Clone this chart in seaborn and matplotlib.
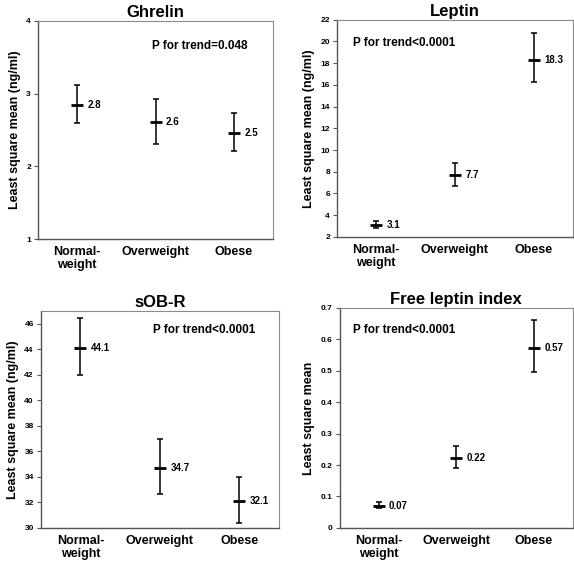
import numpy as np
import pandas as pd
import matplotlib
matplotlib.use("Agg")
import matplotlib.pyplot as plt
import seaborn as sns

sns.set_style("white")
plt.rcParams['font.family'] = ['Liberation Sans', 'DejaVu Sans']
plt.rcParams['text.color'] = 'black'
plt.rcParams['axes.labelcolor'] = 'black'
plt.rcParams['xtick.color'] = 'black'
plt.rcParams['ytick.color'] = 'black'

categories = ["Normal-\nweight", "Overweight", "Obese"]

ghrelin_mean = [2.84, 2.61, 2.46]
ghrelin_lo = [2.59, 2.31, 2.21]
ghrelin_hi = [3.12, 2.93, 2.74]
ghrelin_lbl = ["2.8", "2.6", "2.5"]

leptin_mean = [3.1, 7.7, 18.3]
leptin_lo = [2.8, 6.7, 16.25]
leptin_hi = [3.42, 8.85, 20.8]
leptin_lbl = ["3.1", "7.7", "18.3"]

sobr_mean = [44.1, 34.7, 32.1]
sobr_lo = [42.0, 32.68, 30.39]
sobr_hi = [46.42, 36.95, 34.0]
sobr_lbl = ["44.1", "34.7", "32.1"]

fli_mean = [0.071, 0.222, 0.571]
fli_lo = [0.063, 0.191, 0.495]
fli_hi = [0.081, 0.262, 0.661]
fli_lbl = ["0.07", "0.22", "0.57"]

panels = [
    dict(title="Ghrelin", mean=ghrelin_mean, lo=ghrelin_lo, hi=ghrelin_hi, lbl=ghrelin_lbl,
         ylim=(1, 4), yticks=[1, 2, 3, 4], ylabel="Least square mean (ng/ml)",
         ptxt="P for trend=0.048", ppos=(0.485, 0.885),
         rect=[0.066, 0.576, 0.410, 0.387]),
    dict(title="Leptin", mean=leptin_mean, lo=leptin_lo, hi=leptin_hi, lbl=leptin_lbl,
         ylim=(2, 22), yticks=list(range(2, 23, 2)), ylabel="Least square mean (ng/ml)",
         ptxt="P for trend<0.0001", ppos=(0.068, 0.894),
         rect=[0.587, 0.580, 0.411, 0.385]),
    dict(title="sOB-R", mean=sobr_mean, lo=sobr_lo, hi=sobr_hi, lbl=sobr_lbl,
         ylim=(30, 47), yticks=list(range(30, 47, 2)), ylabel="Least square mean (ng/ml)",
         ptxt="P for trend<0.0001", ppos=(0.47, 0.912),
         rect=[0.071, 0.064, 0.415, 0.385]),
    dict(title="Free leptin index", mean=fli_mean, lo=fli_lo, hi=fli_hi, lbl=fli_lbl,
         ylim=(0, 0.7), yticks=[0, 0.1, 0.2, 0.3, 0.4, 0.5, 0.6, 0.7], ylabel="Least square mean",
         ptxt="P for trend<0.0001", ppos=(0.056, 0.90),
         rect=[0.592, 0.064, 0.406, 0.390]),
]

fig = plt.figure(figsize=(5.74, 5.64), dpi=100)

for p in panels:
    ax = fig.add_axes(p["rect"])
    df = pd.DataFrame({"group": categories, "mean": p["mean"], "lo": p["lo"], "hi": p["hi"]})
    x = np.arange(len(categories))
    ax.errorbar(x, df["mean"], yerr=[df["mean"] - df["lo"], df["hi"] - df["mean"]],
                fmt="none", ecolor="black", elinewidth=1.1, capsize=2.4, capthick=1.1, zorder=2)
    sns.scatterplot(data=df, x="group", y="mean", marker="_", s=85, color="black",
                    linewidth=2.0, ax=ax, zorder=3, legend=False)
    for i, (m, t) in enumerate(zip(p["mean"], p["lbl"])):
        ax.annotate(t, (i, m), xytext=(7.5, 0), textcoords="offset points",
                    ha="left", va="center", fontsize=7, fontweight="bold", color="black")
    ax.set_xlim(-0.5, 2.5)
    ax.set_ylim(*p["ylim"])
    ax.set_yticks(p["yticks"])
    ax.set_yticklabels([f"{v:g}" for v in p["yticks"]], fontsize=6, fontweight="bold")
    ax.set_xticks(x)
    ax.set_xticklabels(categories, fontsize=9, fontweight="bold", linespacing=1.1)
    ax.tick_params(axis="x", length=0, pad=5)
    ax.tick_params(axis="y", length=3, width=0.8, pad=2, left=True, color="#555555")
    ax.set_xlabel("")
    ax.set_ylabel(p["ylabel"], fontsize=9, fontweight="bold", labelpad=4)
    ax.set_title(p["title"], fontsize=12, fontweight="bold", pad=3)
    ax.text(p["ppos"][0], p["ppos"][1], p["ptxt"], transform=ax.transAxes,
            ha="left", va="center", fontsize=8.5, fontweight="bold")
    for side in ["left", "bottom"]:
        ax.spines[side].set_color("#555555")
        ax.spines[side].set_linewidth(1.0)
    for side in ["top", "right"]:
        ax.spines[side].set_color("#8a8a8a")
        ax.spines[side].set_linewidth(0.8)

fig.savefig("out.png", dpi=100)
